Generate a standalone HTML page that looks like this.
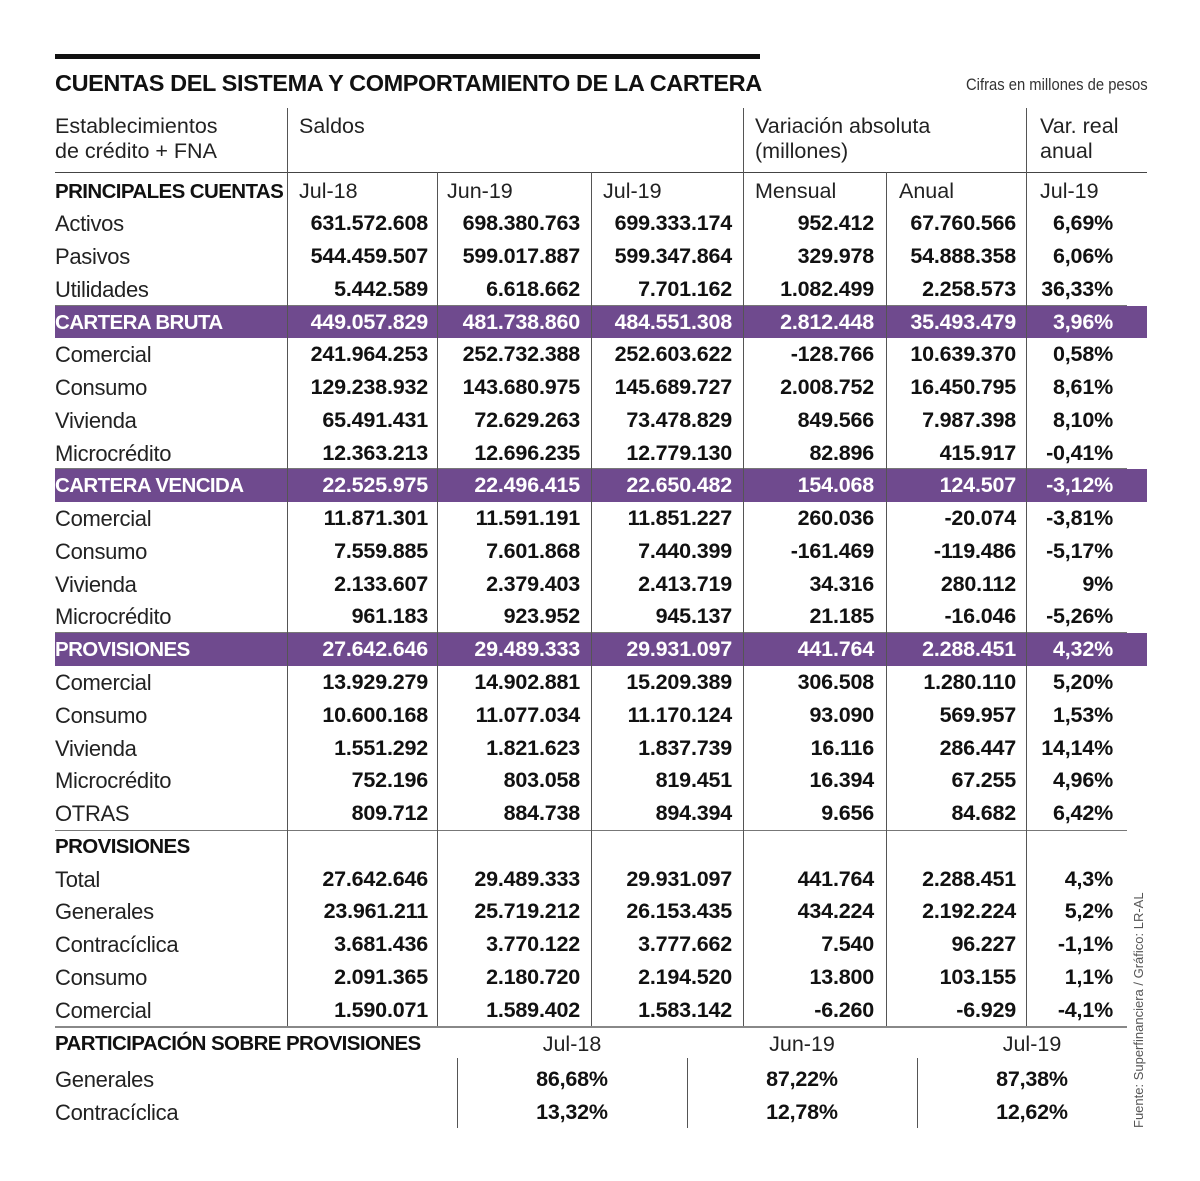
<!DOCTYPE html>
<html><head><meta charset="utf-8">
<style>
body{margin:0;background:#fff;}
#root{position:relative;width:1200px;height:1181px;overflow:hidden;background:#fff;font-family:"Liberation Sans",sans-serif;color:#111;}
.a{position:absolute;white-space:nowrap;}
.lbl{font-size:22px;font-weight:normal;color:#222;letter-spacing:-0.3px;}
.sec{font-size:20.5px;font-weight:bold;letter-spacing:-0.6px;}
.num{font-size:21.5px;font-weight:bold;text-align:right;letter-spacing:-0.2px;}
.hd{font-size:21.5px;color:#222;}
.vl{position:absolute;width:1px;background:#555;}
.hl{position:absolute;height:1px;background:#777;}
.band{position:absolute;background:#6f4a8e;}
.w{color:#fff;}
</style></head><body>
<div id="root">
<div class="a" style="left:55px;top:54px;width:705px;height:5px;background:#111"></div>
<div class="a" style="left:55px;top:70px;font-size:23.5px;font-weight:bold;letter-spacing:-0.4px">CUENTAS DEL SISTEMA Y COMPORTAMIENTO DE LA CARTERA</div>
<div class="a" style="left:966px;top:75px;font-size:17px;color:#333;transform:scaleX(0.87);transform-origin:left">Cifras en millones de pesos</div>
<div class="a hd" style="left:55px;top:114px;line-height:25px">Establecimientos<br>de crédito + FNA</div>
<div class="a hd" style="left:299px;top:114px">Saldos</div>
<div class="a hd" style="left:755px;top:114px;line-height:25px">Variación absoluta<br>(millones)</div>
<div class="a hd" style="left:1040px;top:114px;line-height:25px">Var. real<br>anual</div>
<div class="hl" style="left:55px;top:172px;width:1092px;background:#444"></div>
<div class="a" style="left:1131px;top:1128px;font-size:13px;color:#555;transform:rotate(-90deg);transform-origin:left top">Fuente: Superfinanciera / Gráfico: LR-AL</div>
</div>
<script>
const rowLabels=["PRINCIPALES CUENTAS","Activos","Pasivos","Utilidades","CARTERA BRUTA","Comercial","Consumo","Vivienda","Microcrédito","CARTERA VENCIDA","Comercial","Consumo","Vivienda","Microcrédito","PROVISIONES","Comercial","Consumo","Vivienda","Microcrédito","OTRAS","PROVISIONES","Total","Generales","Contracíclica","Consumo","Comercial"];
const rowTypes=["sec","r","r","r","band","r","r","r","r","band","r","r","r","r","band","r","r","r","r","r","sec","r","r","r","r","r"];
const colJul18=["Jul-18","631.572.608","544.459.507","5.442.589","449.057.829","241.964.253","129.238.932","65.491.431","12.363.213","22.525.975","11.871.301","7.559.885","2.133.607","961.183","27.642.646","13.929.279","10.600.168","1.551.292","752.196","809.712","","27.642.646","23.961.211","3.681.436","2.091.365","1.590.071"];
const colJun19=["Jun-19","698.380.763","599.017.887","6.618.662","481.738.860","252.732.388","143.680.975","72.629.263","12.696.235","22.496.415","11.591.191","7.601.868","2.379.403","923.952","29.489.333","14.902.881","11.077.034","1.821.623","803.058","884.738","","29.489.333","25.719.212","3.770.122","2.180.720","1.589.402"];
const colJul19=["Jul-19","699.333.174","599.347.864","7.701.162","484.551.308","252.603.622","145.689.727","73.478.829","12.779.130","22.650.482","11.851.227","7.440.399","2.413.719","945.137","29.931.097","15.209.389","11.170.124","1.837.739","819.451","894.394","","29.931.097","26.153.435","3.777.662","2.194.520","1.583.142"];
const colMensual=["Mensual","952.412","329.978","1.082.499","2.812.448","-128.766","2.008.752","849.566","82.896","154.068","260.036","-161.469","34.316","21.185","441.764","306.508","93.090","16.116","16.394","9.656","","441.764","434.224","7.540","13.800","-6.260"];
const colAnual=["Anual","67.760.566","54.888.358","2.258.573","35.493.479","10.639.370","16.450.795","7.987.398","415.917","124.507","-20.074","-119.486","280.112","-16.046","2.288.451","1.280.110","569.957","286.447","67.255","84.682","","2.288.451","2.192.224","96.227","103.155","-6.929"];
const colVar=["Jul-19","6,69%","6,06%","36,33%","3,96%","0,58%","8,61%","8,10%","-0,41%","-3,12%","-3,81%","-5,17%","9%","-5,26%","4,32%","5,20%","1,53%","14,14%","4,96%","6,42%","","4,3%","5,2%","-1,1%","1,1%","-4,1%"];
const partCats=["Jul-18","Jun-19","Jul-19"];
const partLabels=["Generales","Contracíclica"];
const partGenerales=["86,68%","87,22%","87,38%"];
const partContra=["13,32%","12,78%","12,62%"];

const root=document.getElementById('root');
const cols=[colJul18,colJun19,colJul19,colMensual,colAnual,colVar];
const colRight=[428,580,732,874,1016,1113];
const colLeft=[299,447,603,755,899,1040];
const top0=174.6, rh=32.76;
function rowTop(i){return top0+rh*i;}
function mk(cls,style,text){const d=document.createElement('div');d.className=cls;d.style.cssText=style;if(text!==undefined)d.textContent=text;root.appendChild(d);return d;}
rowTypes.forEach((t,i)=>{
  if(t==='band'){
    const b=mk('band',`left:55px;top:${rowTop(i)}px;width:1092px;height:${rh}px`);
    
    
    const l=mk('hl',`left:55px;top:${rowTop(i)-1}px;width:1072px`);
    
    
  }
});
[20].forEach(i=>{const l=mk('hl',`left:55px;top:${rowTop(i)}px;width:1072px`);
  
  });
const bl=mk('hl',`left:55px;top:${rowTop(26)}px;width:1072px;height:2px;background:#888`);


[287,437,591,743,886,1026].forEach((x,k)=>{
  const top=(k===0||k===3||k===5)?108:172;
  const v=mk('vl',`left:${x}px;top:${top}px;height:${rowTop(26)-top}px`);
  
  
});
rowLabels.forEach((lab,i)=>{
  const t=rowTypes[i];
  const y=rowTop(i)+4;
  const cls=(t==='r'?'a lbl':'a sec')+(t==='band'?' w':'');
  const d=mk(cls,`left:55px;top:${y+(t==='r'?0:1)}px`,lab);
  
  
  cols.forEach((c,k)=>{
    const v=c[i]; if(!v)return;
    let e;
    if(i===0){e=mk('a hd',`left:${colLeft[k]}px;top:${y}px`,v);}
    else{e=mk('a num'+(t==='band'?' w':''),`right:${1200-colRight[k]}px;top:${y}px`,v);}
    
    
  });
});
const ph=mk('a sec',`left:55px;top:1032px`,'PARTICIPACIÓN SOBRE PROVISIONES');


const pc=[572,802,1032];
partCats.forEach((c,k)=>{
  const e=mk('a hd',`left:${pc[k]-60}px;width:120px;text-align:center;top:1032px`,c);
  
  
  const v=mk('vl',`left:${pc[k]-115}px;top:1058px;height:70px`);
  
  
});
[partGenerales,partContra].forEach((arr,r)=>{
  const y=1067+r*32.5;
  const l=mk('a lbl',`left:55px;top:${y}px`,partLabels[r]);
  
  
  arr.forEach((v,k)=>{
    const e=mk('a num',`left:${pc[k]-60}px;width:120px;text-align:center;top:${y}px`,v);
    
    
  });
});
</script>
</body></html>
